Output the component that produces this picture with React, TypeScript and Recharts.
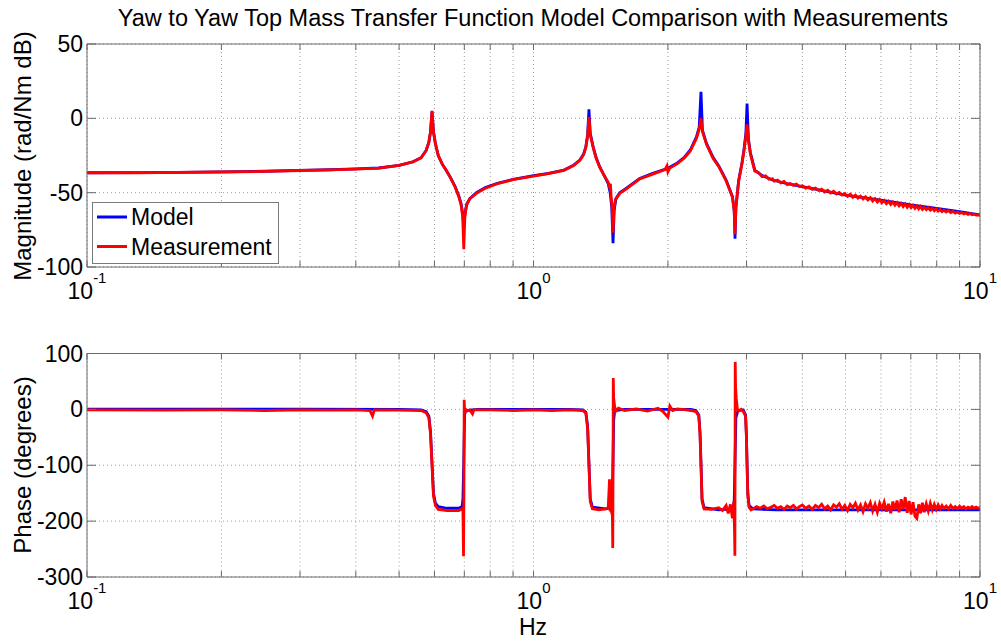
import React from 'react';
import { LineChart, Line, XAxis, YAxis, CartesianGrid, Legend } from 'recharts';

const FONT = '"Liberation Sans", Arial, Helvetica, sans-serif';
const AXIS = '#6a6a6a';
const GRID = '#9c9c9c';
const BLUE = '#0000ff';
const RED = '#ff0000';

// ---------- tick values ----------
const xMajorTicks = [0.1, 1, 10];
const xMinorTicks = [0.1, 0.2, 0.3, 0.4, 0.5, 0.6, 0.7, 0.8, 0.9, 1, 2, 3, 4, 5, 6, 7, 8, 9, 10];
const magTicks = [-100, -50, 0, 50];
const phaseTicks = [-300, -200, -100, 0, 100];

// ---------- model magnitude (dB) ----------
const modelMagFreq = [0.1, 0.13, 0.16, 0.2, 0.25, 0.3, 0.35, 0.4, 0.45, 0.5, 0.537, 0.56, 0.575, 0.583, 0.588, 0.5925, 0.597, 0.603, 0.612, 0.625, 0.637, 0.652, 0.668, 0.68, 0.688, 0.694, 0.698, 0.702, 0.708, 0.72, 0.745, 0.78, 0.83, 0.9, 1.0, 1.08, 1.17, 1.23, 1.27, 1.295, 1.31, 1.322, 1.331, 1.34, 1.36, 1.38, 1.407, 1.44, 1.47, 1.485, 1.497, 1.507, 1.516, 1.53, 1.56, 1.615, 1.729, 1.85, 2.0, 2.1, 2.18, 2.245, 2.317, 2.35, 2.372, 2.39, 2.44, 2.52, 2.6, 2.7, 2.79, 2.815, 2.827, 2.84, 2.88, 2.93, 2.96, 2.99, 3.008, 3.03, 3.06, 3.09, 3.13, 3.25, 3.43, 3.7, 4.0, 4.5, 5.0, 6.0, 7.0, 8.0, 9.0, 10.0];
const modelMag = [-36.6, -36.5, -36.3, -36.0, -35.6, -35.0, -34.6, -34.0, -33.4, -31.6, -29.2, -26.5, -21.5, -16, -9, 4.5, -9, -17, -25, -31, -34.8, -40, -46, -52, -57, -64, -72, -65, -58, -54, -50, -46.5, -43.7, -41, -38.6, -37, -34.8, -31.5, -28, -24, -19, -11, 6, -10, -19, -26, -32.5, -38.5, -44, -50, -60, -84, -62, -54, -50, -47, -40.5, -37, -33.6, -30, -26, -21.3, -12.4, -6, 17.9, -8, -16.8, -25.8, -32, -41.5, -52.7, -62, -81, -60, -42, -30, -21.3, -10, 10, -14, -23, -28, -34.8, -38.5, -41.5, -44, -46, -49, -51.6, -55, -58.3, -60.5, -62.8, -65];

// ---------- measured magnitude (dB) ----------
const measMagFreq = [0.1, 0.13, 0.16, 0.2, 0.25, 0.3, 0.35, 0.4, 0.45, 0.5, 0.537, 0.56, 0.575, 0.583, 0.588, 0.5925, 0.597, 0.603, 0.612, 0.625, 0.637, 0.652, 0.668, 0.68, 0.688, 0.694, 0.698, 0.702, 0.708, 0.72, 0.745, 0.78, 0.83, 0.9, 1.0, 1.08, 1.17, 1.23, 1.27, 1.295, 1.31, 1.322, 1.331, 1.34, 1.36, 1.38, 1.407, 1.44, 1.47, 1.48, 1.487, 1.492, 1.5, 1.507, 1.514, 1.525, 1.56, 1.615, 1.729, 1.85, 1.97, 1.99, 2.0, 2.02, 2.1, 2.18, 2.245, 2.317, 2.35, 2.372, 2.39, 2.44, 2.52, 2.6, 2.7, 2.79, 2.815, 2.827, 2.84, 2.88, 2.93, 2.96, 2.99, 3.008, 3.03, 3.06, 3.09, 3.13, 3.19, 3.25, 3.31, 3.37, 3.43, 3.46, 3.52, 3.58, 3.64, 3.70, 3.76, 3.82, 3.88, 3.94, 4.00, 4.07, 4.14, 4.21, 4.28, 4.35, 4.42, 4.49, 4.56, 4.63, 4.70, 4.77, 4.84, 4.91, 4.98, 5.05, 5.12, 5.19, 5.26, 5.33, 5.40, 5.47, 5.54, 5.61, 5.68, 5.75, 5.82, 5.89, 5.96, 6.03, 6.10, 6.17, 6.24, 6.31, 6.38, 6.45, 6.52, 6.59, 6.66, 6.73, 6.80, 6.87, 6.94, 7.01, 7.08, 7.15, 7.22, 7.29, 7.36, 7.43, 7.50, 7.58, 7.66, 7.74, 7.82, 7.90, 7.98, 8.06, 8.14, 8.22, 8.30, 8.40, 8.50, 8.60, 8.70, 8.80, 8.90, 9.00, 9.10, 9.20, 9.30, 9.40, 9.50, 9.60, 9.70, 9.80, 9.90, 10.0];
const measMag = [-36.6, -36.6, -36.4, -36.1, -35.7, -35.1, -34.7, -34.1, -33.5, -31.7, -29.3, -26.6, -21.6, -16, -9, 5, -9, -17, -25, -31, -34.8, -40, -46.5, -52.5, -58, -66, -88, -66, -58.5, -54, -50.5, -47, -44, -41.3, -38.8, -37.2, -35, -31.7, -28.2, -24.5, -19.5, -12, 1, -11, -19.5, -26.5, -33, -38.5, -43, -46, -44, -52, -60, -77, -61, -55, -50.5, -47.5, -40.8, -37.5, -34.5, -32, -36, -33.5, -30.5, -26.5, -22, -13.5, -7.5, 0, -9, -17.5, -26.5, -32.5, -42, -53, -62, -78, -60, -42.5, -30.5, -22, -12, -4, -15, -24, -29, -35.5, -36.4, -39.2, -38.6, -41.0, -40.6, -42.3, -41.6, -43.4, -42.5, -44.6, -43.8, -45.1, -44.2, -45.9, -45.4, -47.0, -46.1, -47.8, -46.9, -48.5, -47.6, -49.5, -48.4, -50.2, -49.1, -50.9, -49.8, -51.6, -50.6, -52.5, -51.0, -53.1, -51.7, -53.6, -52.3, -54.3, -52.8, -54.9, -53.4, -55.6, -54.0, -56.3, -54.6, -56.8, -55.2, -57.4, -55.8, -57.9, -56.3, -58.4, -56.7, -58.9, -57.2, -59.3, -57.6, -59.8, -58.0, -60.1, -58.5, -60.5, -59.0, -60.9, -59.3, -61.2, -59.8, -61.5, -60.1, -61.8, -60.6, -62.1, -60.9, -62.4, -61.3, -62.7, -61.7, -63.0, -62.1, -63.4, -62.6, -63.8, -63.0, -64.0, -63.3, -64.3, -63.7, -64.6, -64.1, -64.9, -64.5, -65.1, -64.9, -65.4];

// ---------- model phase (degrees) ----------
const modelPhaseFreq = [0.1, 0.3, 0.5, 0.56, 0.575, 0.583, 0.588, 0.5925, 0.597, 0.603, 0.612, 0.64, 0.68, 0.692, 0.695, 0.698, 0.701, 0.705, 0.75, 1.0, 1.2, 1.29, 1.31, 1.322, 1.331, 1.34, 1.355, 1.45, 1.495, 1.502, 1.507, 1.512, 1.52, 1.6, 2.0, 2.25, 2.31, 2.345, 2.36, 2.372, 2.385, 2.41, 2.6, 2.79, 2.815, 2.827, 2.84, 2.87, 2.95, 2.985, 2.998, 3.008, 3.02, 3.04, 3.1, 3.5, 5.0, 10.0];
const modelPhase = [0.5, 0.3, 0, -1, -4, -12, -40, -95, -150, -168, -174, -177, -177, -174, -160, -90, -10, -2, 0, 0, 0, -1, -5, -30, -95, -160, -175, -178, -176, -150, -90, -20, -2, 0, 0, 0, -2, -10, -40, -95, -160, -176, -180, -178, -165, -90, -15, -2, -1, -10, -45, -95, -150, -172, -178, -180, -180, -180];

// ---------- measured phase (degrees) ----------
const measPhaseFreq = [0.1, 0.15, 0.2, 0.25, 0.3, 0.35, 0.4, 0.43, 0.436, 0.44, 0.5, 0.56, 0.575, 0.583, 0.588, 0.5925, 0.597, 0.603, 0.612, 0.64, 0.68, 0.692, 0.695, 0.697, 0.6985, 0.6995, 0.701, 0.705, 0.71, 0.72, 0.73, 0.735, 0.8, 0.9, 1.0, 1.1, 1.2, 1.29, 1.31, 1.322, 1.331, 1.34, 1.355, 1.4, 1.45, 1.47, 1.48, 1.485, 1.495, 1.502, 1.505, 1.507, 1.509, 1.512, 1.52, 1.53, 1.55, 1.6, 1.7, 1.8, 1.9, 1.95, 2.0, 2.02, 2.05, 2.1, 2.2, 2.25, 2.31, 2.345, 2.36, 2.372, 2.385, 2.41, 2.5, 2.6, 2.65, 2.7, 2.73, 2.76, 2.79, 2.81, 2.82, 2.825, 2.828, 2.83, 2.835, 2.845, 2.86, 2.88, 2.92, 2.95, 2.985, 2.998, 3.008, 3.02, 3.04, 3.07, 3.10, 3.16, 3.22, 3.28, 3.34, 3.40, 3.46, 3.52, 3.58, 3.64, 3.70, 3.76, 3.82, 3.88, 3.94, 4.00, 4.07, 4.14, 4.21, 4.28, 4.35, 4.42, 4.49, 4.56, 4.63, 4.70, 4.77, 4.84, 4.91, 4.98, 5.05, 5.12, 5.19, 5.26, 5.33, 5.40, 5.47, 5.54, 5.61, 5.68, 5.75, 5.82, 5.89, 5.96, 6.03, 6.10, 6.17, 6.24, 6.31, 6.38, 6.45, 6.52, 6.59, 6.66, 6.73, 6.80, 6.87, 6.94, 7.01, 7.08, 7.15, 7.22, 7.29, 7.36, 7.43, 7.50, 7.58, 7.66, 7.74, 7.82, 7.90, 7.98, 8.06, 8.14, 8.22, 8.30, 8.40, 8.50, 8.60, 8.70, 8.80, 8.90, 9.00, 9.10, 9.20, 9.30, 9.40, 9.50, 9.60, 9.70, 9.80, 9.90, 10.0];
const measPhase = [-1, -1.5, -1, -2, -1, -1.5, -1, -2, -12, -1, -1.5, -2, -6, -15, -45, -100, -155, -172, -179, -181, -181, -178, -182, -263, -150, 17, -5, 0, -3, -1, -8, -1, -1, -2, -1, -2, -1, -2, -7, -35, -100, -165, -178, -180, -178, -176, -125, -180, -183, -190, -248, -120, 56, 20, 5, -3, 2, -2, 1, -3, 2, -4, -14, 6, -2, 1, -1, -2, -4, -12, -45, -100, -165, -178, -179, -176, -181, -172, -186, -170, -195, -165, -220, -262, -100, 85, 40, 20, 2, -3, 0, -4, -12, -50, -100, -155, -175, -180, -178, -174, -177, -173, -178, -175, -172, -177, -174, -179, -173, -176, -172, -178, -174, -171, -177, -173, -179, -172, -176, -170, -178, -173, -180, -171, -175, -169, -179, -172, -181, -170, -176, -168, -180, -171, -183, -169, -177, -167, -182, -170, -184, -168, -178, -166, -183, -169, -186, -165, -180, -163, -184, -161, -179, -157, -185, -164, -188, -166, -191, -195, -170, -186, -167, -184, -169, -182, -168, -180, -170, -179, -171, -178, -172, -177, -173, -178, -172, -177, -174, -178, -173, -177, -174, -178, -175, -177, -174, -177, -175, -177, -176];

const toPoints = (f: number[], v: number[]) => f.map((x, i) => ({ f: x, v: v[i] }));

const modelMagData = toPoints(modelMagFreq, modelMag);
const measMagData = toPoints(measMagFreq, measMag);
const modelPhaseData = toPoints(modelPhaseFreq, modelPhase);
const measPhaseData = toPoints(measPhaseFreq, measPhase);

const FS = 23;

const XTick = (props: any) => {
  const { x, y, payload } = props;
  const exp = Math.round(Math.log10(payload.value));
  return (
    <text x={x} y={y + 32} textAnchor="middle" fontFamily={FONT} fontSize={FS} fill="#000">
      10
      <tspan dy={-16} fontSize={15}>{String(exp)}</tspan>
    </text>
  );
};

const YTick = (props: any) => {
  const { x, y, payload } = props;
  return (
    <text x={x - 4} y={y + 8} textAnchor="end" fontFamily={FONT} fontSize={FS} fill="#000">
      {String(payload.value)}
    </text>
  );
};

const NoLabel = () => <g />;

const LegendBox = () => (
  <svg width={187} height={62} style={{ display: 'block' }}>
    <rect x={0.5} y={0.5} width={186} height={61} fill="#fff" stroke="#7a7a7a" strokeWidth={1} />
    <line x1={5} y1={15} x2={35} y2={15} stroke={BLUE} strokeWidth={3} />
    <text x={39} y={23} fontFamily={FONT} fontSize={FS} fill="#000">Model</text>
    <line x1={5} y1={44.5} x2={35} y2={44.5} stroke={RED} strokeWidth={3} />
    <text x={39} y={53} fontFamily={FONT} fontSize={FS} fill="#000">Measurement</text>
  </svg>
);

type PanelProps = {
  height: number;
  margin: { top: number; right: number; bottom: number; left: number };
  domain: [number, number];
  yTicks: number[];
  model: { f: number; v: number }[];
  meas: { f: number; v: number }[];
  legend?: boolean;
};

const Panel = ({ height, margin, domain, yTicks, model, meas, legend }: PanelProps) => (
  <LineChart width={1001} height={height} margin={margin}>
    <CartesianGrid xAxisId="bm" yAxisId="l" stroke={GRID} strokeDasharray="1 3" strokeWidth={1} />
    <XAxis
      xAxisId="b"
      dataKey="f"
      type="number"
      scale="log"
      domain={[0.1, 10]}
      allowDataOverflow
      ticks={xMajorTicks}
      interval={0}
      height={30}
      tickLine={false}
      tickSize={0}
      tickMargin={0}
      tick={<XTick />}
      axisLine={{ stroke: AXIS, strokeWidth: 1 }}
    />
    <XAxis
      xAxisId="bm"
      dataKey="f"
      type="number"
      scale="log"
      domain={[0.1, 10]}
      allowDataOverflow
      ticks={xMinorTicks}
      interval={0}
      mirror
      tickSize={6}
      tickLine={{ stroke: AXIS, strokeWidth: 1 }}
      tick={<NoLabel />}
      axisLine={false}
    />
    <XAxis
      xAxisId="tm"
      orientation="top"
      dataKey="f"
      type="number"
      scale="log"
      domain={[0.1, 10]}
      allowDataOverflow
      ticks={xMinorTicks}
      interval={0}
      mirror
      tickSize={6}
      tickLine={{ stroke: AXIS, strokeWidth: 1 }}
      tick={<NoLabel />}
      axisLine={{ stroke: AXIS, strokeWidth: 1 }}
    />
    <YAxis
      yAxisId="l"
      type="number"
      domain={domain}
      allowDataOverflow
      ticks={yTicks}
      interval={0}
      width={60}
      tickLine={false}
      tickSize={0}
      tickMargin={0}
      tick={<YTick />}
      axisLine={{ stroke: AXIS, strokeWidth: 1 }}
    />
    <YAxis
      yAxisId="lm"
      type="number"
      domain={domain}
      allowDataOverflow
      ticks={yTicks}
      interval={0}
      mirror
      tickSize={9}
      tickLine={{ stroke: AXIS, strokeWidth: 1 }}
      tick={<NoLabel />}
      axisLine={false}
    />
    <YAxis
      yAxisId="rm"
      orientation="right"
      type="number"
      domain={domain}
      allowDataOverflow
      ticks={yTicks}
      interval={0}
      mirror
      tickSize={9}
      tickLine={{ stroke: AXIS, strokeWidth: 1 }}
      tick={<NoLabel />}
      axisLine={{ stroke: AXIS, strokeWidth: 1 }}
    />
    <Line
      name="Model"
      data={model}
      dataKey="v"
      xAxisId="b"
      yAxisId="l"
      type="linear"
      stroke={BLUE}
      strokeWidth={2.8}
      dot={false}
      activeDot={false}
      isAnimationActive={false}
    />
    <Line
      name="Measurement"
      data={meas}
      dataKey="v"
      xAxisId="b"
      yAxisId="l"
      type="linear"
      stroke={RED}
      strokeWidth={2.8}
      dot={false}
      activeDot={false}
      isAnimationActive={false}
    />
    {legend ? (
      <Legend
        layout="vertical"
        align="center"
        verticalAlign="middle"
        content={<LegendBox />}
        wrapperStyle={{ position: 'absolute', left: 92, top: 202, width: 187, height: 62 }}
      />
    ) : null}
  </LineChart>
);

export default function App() {
  return (
    <div
      style={{
        position: 'absolute',
        left: 0,
        top: 0,
        width: 1001,
        height: 641,
        background: '#fff',
        overflow: 'hidden',
        fontFamily: FONT,
      }}
    >
      <div style={{ position: 'absolute', left: 0, top: 0 }}>
        <Panel
          height={310}
          margin={{ top: 44, right: 21, bottom: 13, left: 27 }}
          domain={[-100, 50]}
          yTicks={magTicks}
          model={modelMagData}
          meas={measMagData}
          legend
        />
      </div>
      <div style={{ position: 'absolute', left: 0, top: 310 }}>
        <Panel
          height={331}
          margin={{ top: 43.5, right: 21, bottom: 34, left: 27 }}
          domain={[-300, 100]}
          yTicks={phaseTicks}
          model={modelPhaseData}
          meas={measPhaseData}
        />
      </div>
      <svg
        width={1001}
        height={641}
        style={{ position: 'absolute', left: 0, top: 0, pointerEvents: 'none' }}
      >
        <text x={533} y={26} textAnchor="middle" fontFamily={FONT} fontSize={23.5} fill="#000">
          Yaw to Yaw Top Mass Transfer Function Model Comparison with Measurements
        </text>
        <text
          transform="translate(31,156) rotate(-90)"
          textAnchor="middle"
          fontFamily={FONT}
          fontSize={24}
          fill="#000"
        >
          Magnitude (rad/Nm dB)
        </text>
        <text
          transform="translate(31,465) rotate(-90)"
          textAnchor="middle"
          fontFamily={FONT}
          fontSize={24}
          fill="#000"
        >
          Phase (degrees)
        </text>
        <text x={533} y={635} textAnchor="middle" fontFamily={FONT} fontSize={23} fill="#000">
          Hz
        </text>
      </svg>
    </div>
  );
}
